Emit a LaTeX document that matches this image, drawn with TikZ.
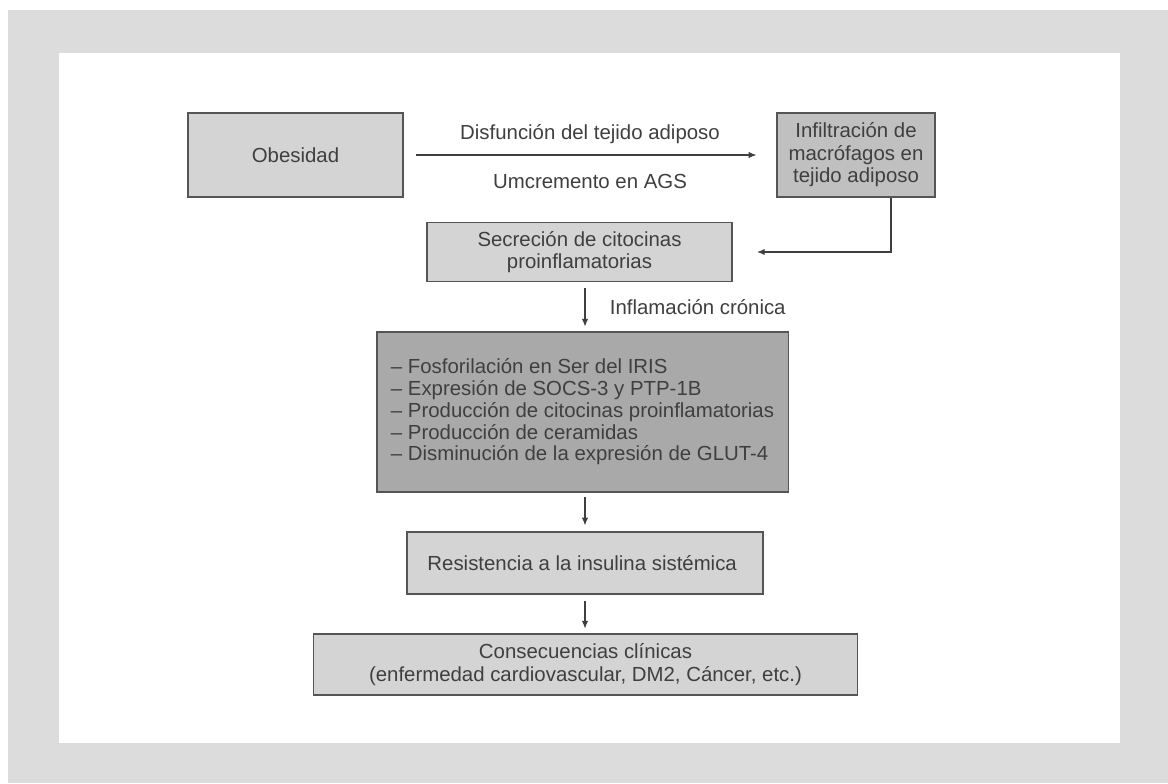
\documentclass[tikz,border=0pt]{standalone}
\usepackage{fontspec}
\setmainfont{Liberation Sans}
\usetikzlibrary{positioning, arrows.meta}

\definecolor{framegray}{HTML}{DCDCDC}
\definecolor{boxlight}{HTML}{D4D4D4}
\definecolor{boxmid}{HTML}{C0C0C0}
\definecolor{boxdark}{HTML}{A9A9A9}
\definecolor{edgegray}{HTML}{555555}
\definecolor{inkgray}{HTML}{3F3F3F}

\begin{document}
\begin{tikzpicture}[
    x=0.025cm, y=-0.025cm,
    stage/.style={rectangle, draw=edgegray, line width=0.8pt, fill=boxlight,
                  align=center, text=inkgray,
                  font=\fontsize{14.5}{16}\selectfont},
    listbox/.style={stage, fill=boxdark, align=left,
                    font=\fontsize{14.5}{15.5}\selectfont},
    arrow/.style={-{Latex[length=5.5pt, width=4.5pt]}, line width=0.8pt, draw=inkgray},
    label/.style={text=inkgray, font=\fontsize{14.5}{16}\selectfont}
  ]

    % page frame
    \useasboundingbox (0,0) rectangle (1168,783);
    \fill[white] (0,0) rectangle (1168,783);
    \fill[framegray] (8,10) rectangle (1168,783);
    \fill[white] (59,53) rectangle (1120,743);

    % top row
    \node[stage, minimum width=5.375cm, minimum height=2.1cm] (obesity) at (295.5,155) {Obesidad};
    \node[stage, fill=boxmid, minimum width=3.95cm, minimum height=2.1cm] (macro) at (856,155) {
      Infiltración de\\
      macrófagos en\\
      tejido adiposo
    };

    % cytokines
    \node[stage, minimum width=7.625cm, minimum height=1.475cm] (cytokines) at (579.5,252) {
      Secreción de citocinas\\
      proinflamatorias
    };
    \coordinate (backtip) at (757,252);

    % mechanisms
    \node[listbox, minimum width=10.275cm, minimum height=4cm] (mechanisms) at (582.5,412) {
      \textendash{} Fosforilación en Ser del IRIS\\
      \textendash{} Expresión de SOCS-3 y PTP-1B\\
      \textendash{} Producción de citocinas proinflamatorias\\
      \textendash{} Producción de ceramidas\\
      \textendash{} Disminución de la expresión de GLUT-4
    };

    % outcome
    \node[stage, minimum width=8.9cm, minimum height=1.55cm] (resistance) at (585,563) {
      Resistencia a la insulina sistémica
    };
    \node[stage, minimum width=13.575cm, minimum height=1.525cm] (clinical) at (585.5,664.5) {
      Consecuencias clínicas\\
      (enfermedad cardiovascular, DM2, Cáncer, etc.)
    };

    % arrows
    \draw[arrow, shorten <=0.3cm, shorten >=0.5cm] (obesity) -- (macro)
      node[label, midway, above=4pt] (dysfunction) {Disfunción del tejido adiposo}
      node[label, midway, below=10pt] (fattyacids) {Umcremento en AGS};
    \draw[arrow] ([xshift=0.875cm]macro.south) |- (backtip);
    \draw[arrow, shorten <=0.15cm, shorten >=0.12cm] (cytokines.south -| resistance.north) -- (mechanisms.north -| resistance.north)
      node[label, midway, right=14pt] (chronic) {Inflamación crónica};
    \draw[arrow, shorten <=0.1cm, shorten >=0.15cm] (mechanisms.south -| resistance.north) -- (resistance.north);
    \draw[arrow, shorten <=0.15cm, shorten >=0.12cm] (resistance.south) -- (clinical.north -| resistance.south);

  \end{tikzpicture}
\end{document}
